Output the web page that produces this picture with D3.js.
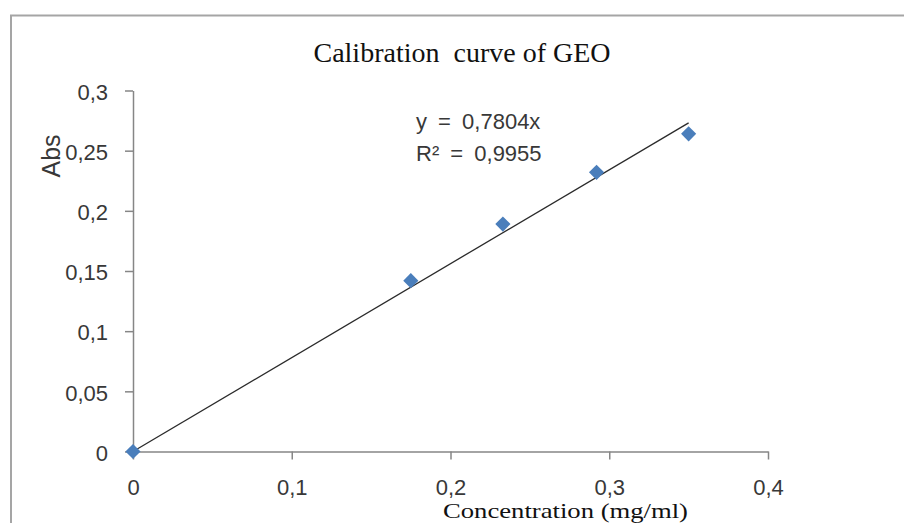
<!DOCTYPE html>
<html>
<head>
<meta charset="utf-8">
<script src="https://cdn.jsdelivr.net/npm/d3@7"></script>
<style>
  html, body { margin: 0; padding: 0; background: #fff; }
</style>
</head>
<body>
<svg id="chart"></svg>
<script>
// calibration data
const concentration = [0, 0.175, 0.233, 0.292, 0.35];
const absorbance = [0, 0.142, 0.189, 0.232, 0.264];
const slope = 0.7804;
const equationLines = ["y = 0,7804x", "R² = 0,9955"];

const yTicks = [0, 0.05, 0.1, 0.15, 0.2, 0.25, 0.3];
const yTickLabels = ["0", "0,05", "0,1", "0,15", "0,2", "0,25", "0,3"];
const xTicks = [0, 0.1, 0.2, 0.3, 0.4];
const xTickLabels = ["0", "0,1", "0,2", "0,3", "0,4"];

const WIDTH = 904;
const HEIGHT = 523;

const svg = d3.select("#chart")
  .attr("width", WIDTH)
  .attr("height", HEIGHT);

// outer chart frame (right and bottom edges fall outside the picture)
svg.append("rect")
  .attr("x", 11).attr("y", 15.5)
  .attr("width", 1000).attr("height", 1000)
  .attr("fill", "none")
  .attr("stroke", "#a5a5a5")
  .attr("stroke-width", 2);

const x = d3.scaleLinear().domain([0, 0.4]).range([133, 768]);
const y = d3.scaleLinear().domain([0, 0.3]).range([451.5, 90.5]);

const sans = "'Liberation Sans', Arial, sans-serif";
const serif = "'Liberation Serif', 'Times New Roman', serif";

// y axis
const yAxis = svg.append("g")
  .attr("transform", `translate(${x(0)},0)`)
  .call(d3.axisLeft(y).tickValues(yTicks).tickSize(8).tickSizeOuter(0)
    .tickFormat((d, i) => yTickLabels[i]));

// x axis
const xAxis = svg.append("g")
  .attr("transform", `translate(0,${y(0)})`)
  .call(d3.axisBottom(x).tickValues(xTicks).tickSize(8).tickSizeOuter(0)
    .tickFormat((d, i) => xTickLabels[i]));

[yAxis, xAxis].forEach(ax => {
  ax.select(".domain").attr("stroke", "#868686").attr("stroke-width", 1.5);
  ax.selectAll(".tick line").attr("stroke", "#868686").attr("stroke-width", 1.5);
  ax.selectAll(".tick text")
    .attr("fill", "#383838")
    .style("font-family", sans)
    .style("font-size", "22px");
});
yAxis.selectAll(".tick text").attr("x", -25).attr("dy", "0.4em");
xAxis.selectAll(".tick text").attr("y", 36).attr("dy", "0.35em");

// trendline through the origin over the data range
const xMax = d3.max(concentration);
svg.append("line")
  .attr("x1", x(0)).attr("y1", y(0))
  .attr("x2", x(xMax)).attr("y2", y(slope * xMax))
  .attr("stroke", "#2b2b2b")
  .attr("stroke-width", 1.3);

// diamond markers
const diamond = d3.symbol().type(d3.symbolSquare).size(115);
svg.selectAll(".pt")
  .data(concentration)
  .enter()
  .append("path")
  .attr("class", "pt")
  .attr("d", diamond)
  .attr("transform", (d, i) => `translate(${x(d)},${y(absorbance[i])}) rotate(45)`)
  .attr("fill", "#4a7ebb");

// equation label
svg.selectAll(".eq")
  .data(equationLines)
  .enter()
  .append("text")
  .attr("class", "eq")
  .attr("x", 416)
  .attr("y", (d, i) => 129 + i * 31.5)
  .attr("fill", "#383838")
  .style("font-family", sans)
  .style("font-size", "22px")
  .style("word-spacing", "5px")
  .text(d => d);

// title
svg.append("text")
  .attr("x", 462).attr("y", 62)
  .attr("text-anchor", "middle")
  .attr("fill", "#111")
  .style("font-family", serif)
  .style("font-size", "28px")
  .style("white-space", "pre")
  .text("Calibration  curve of GEO");

// axis titles
svg.append("text")
  .attr("x", 443).attr("y", 518)
  .attr("textLength", 245)
  .attr("lengthAdjust", "spacingAndGlyphs")
  .attr("fill", "#111")
  .style("font-family", serif)
  .style("font-size", "22px")
  .text("Concentration (mg/ml)");

svg.append("text")
  .attr("transform", "translate(60,156) rotate(-90)")
  .attr("text-anchor", "middle")
  .attr("fill", "#383838")
  .style("font-family", sans)
  .style("font-size", "25px")
  .text("Abs");
</script>
</body>
</html>
